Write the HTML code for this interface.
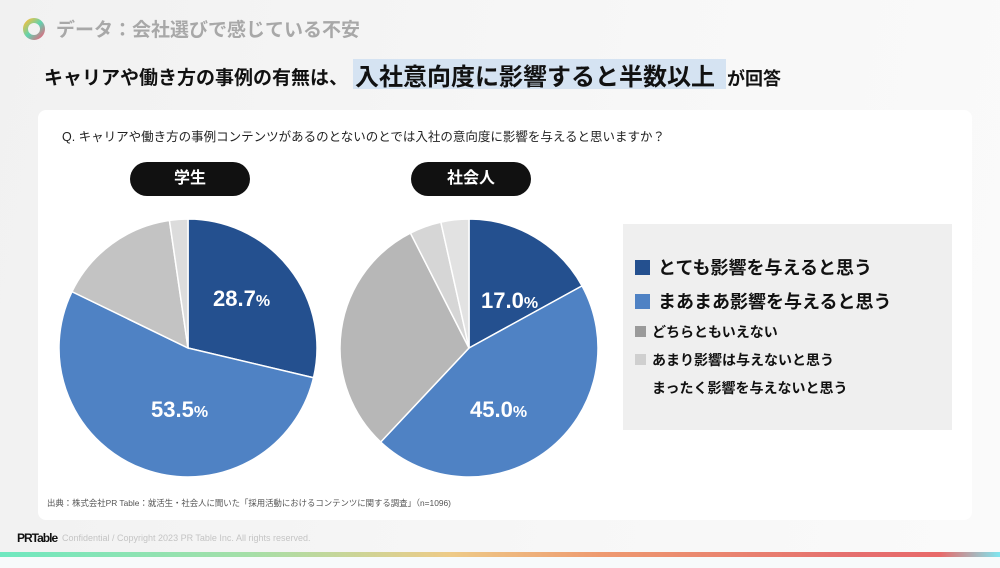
<!DOCTYPE html>
<html><head><meta charset="utf-8"><style>
body{margin:0;width:1000px;height:568px;overflow:hidden;background:linear-gradient(100deg,#f1f1f1,#f7f7f7 60%,#fafafa);font-family:"Liberation Sans","Noto Sans CJK JP",sans-serif;position:relative}
.abs{position:absolute;white-space:nowrap}
</style></head><body>
<svg class="abs" style="left:22px;top:17px" width="24" height="24"><defs><linearGradient id="g" x1="0" y1="0" x2="1" y2="1"><stop offset="0" stop-color="#f0c040"/><stop offset=".5" stop-color="#5fd3b0"/><stop offset="1" stop-color="#e06a80"/></linearGradient></defs><circle cx="12" cy="12" r="8.5" fill="none" stroke="url(#g)" stroke-width="5"/></svg>
<div class="abs" style="left:56px;top:15px;font-size:19px;color:#a8a8a8;font-weight:bold">データ：会社選びで感じている不安</div>
<div class="abs" style="left:44px;top:63px;font-size:19px;font-weight:bold;color:#111">キャリアや働き方の事例の有無は、</div>
<div class="abs" style="left:353px;top:59px;width:373px;height:30px;background:#d5e3f2"></div>
<div class="abs" style="left:355px;top:57px;font-size:24px;font-weight:bold;color:#111">入社意向度に影響すると半数以上</div>
<div class="abs" style="left:727px;top:65px;font-size:18px;font-weight:bold;color:#111">が回答</div>
<div class="abs" style="left:38px;top:110px;width:934px;height:410px;background:#fff;border-radius:8px"></div>
<div class="abs" style="left:62px;top:126px;font-size:12.5px;color:#222">Q. キャリアや働き方の事例コンテンツがあるのとないのとでは入社の意向度に影響を与えると思いますか？</div>
<div class="abs" style="left:130px;top:162px;width:120px;height:34px;background:#111;border-radius:17px;color:#fff;font-size:16px;font-weight:bold;text-align:center;line-height:34px">学生</div>
<div class="abs" style="left:411px;top:162px;width:120px;height:34px;background:#111;border-radius:17px;color:#fff;font-size:16px;font-weight:bold;text-align:center;line-height:34px">社会人</div>
<svg class="abs" style="left:0;top:0" width="1000" height="568" id="pies"></svg>
<div class="abs" style="left:213px;top:286px;font-size:22px;font-weight:bold;color:#fff">28.7<span style="font-size:16px">%</span></div>
<div class="abs" style="left:151px;top:397px;font-size:22px;font-weight:bold;color:#fff">53.5<span style="font-size:16px">%</span></div>
<div class="abs" style="left:481px;top:288px;font-size:22px;font-weight:bold;color:#fff">17.0<span style="font-size:16px">%</span></div>
<div class="abs" style="left:470px;top:397px;font-size:22px;font-weight:bold;color:#fff">45.0<span style="font-size:16px">%</span></div>
<div class="abs" style="left:623px;top:224px;width:329px;height:206px;background:#efefef"></div>
<div class="abs" style="left:635px;top:260px;width:15px;height:15px;background:#24508f"></div>
<div class="abs" style="left:658px;top:254px;font-size:18px;font-weight:bold;color:#111">とても影響を与えると思う</div>
<div class="abs" style="left:635px;top:294px;width:15px;height:15px;background:#4f82c4"></div>
<div class="abs" style="left:658px;top:288px;font-size:18px;font-weight:bold;color:#111">まあまあ影響を与えると思う</div>
<div class="abs" style="left:635px;top:326px;width:11px;height:11px;background:#9a9a9a"></div>
<div class="abs" style="left:652px;top:322px;font-size:14px;font-weight:bold;color:#111">どちらともいえない</div>
<div class="abs" style="left:635px;top:354px;width:11px;height:11px;background:#cfcfcf"></div>
<div class="abs" style="left:652px;top:350px;font-size:14px;font-weight:bold;color:#111">あまり影響は与えないと思う</div>
<div class="abs" style="left:652px;top:378px;font-size:14px;font-weight:bold;color:#111">まったく影響を与えないと思う</div>
<div class="abs" style="left:47px;top:497px;font-size:8.4px;color:#555">出典：株式会社PR Table：就活生・社会人に聞いた「採用活動におけるコンテンツに関する調査」（n=1096)</div>
<div class="abs" style="left:17px;top:531px;font-size:12px;font-weight:bold;color:#111;letter-spacing:-1px">PRTable</div>
<div class="abs" style="left:62px;top:533px;font-size:9px;color:#c4c4c4">Confidential / Copyright 2023 PR Table Inc. All rights reserved.</div>
<div class="abs" style="left:0;top:552px;width:1000px;height:5px;background:linear-gradient(90deg,#6fe8c0,#a5dfa8 25%,#eecb88 45%,#ee9a70 60%,#e56f6f 85%,#e86a6a 94%,#7fe6f0)"></div>
<div class="abs" style="left:0;top:557px;width:1000px;height:11px;background:#f7fafb"></div>
<script>
function pie(cx,cy,r,vals,cols){let s='',a=0;vals.forEach((v,i)=>{const a0=a*2*Math.PI,a1=(a+v)*2*Math.PI;a+=v;
const x0=cx+r*Math.sin(a0),y0=cy-r*Math.cos(a0),x1=cx+r*Math.sin(a1),y1=cy-r*Math.cos(a1);
s+=`<path d="M${cx},${cy}L${x0},${y0}A${r},${r} 0 ${v>0.5?1:0} 1 ${x1},${y1}Z" fill="${cols[i]}" stroke="#fff" stroke-width="1.5"/>`;});return s;}
document.getElementById('pies').innerHTML=pie(188,348,129,[.287,.535,.155,.023],['#24508f','#4f82c4','#c3c3c3','#dcdcdc'])+pie(469,348,129,[.17,.45,.305,.04,.035],['#24508f','#4f82c4','#b7b7b7','#d6d6d6','#e2e2e2']);
</script>
</body></html>
